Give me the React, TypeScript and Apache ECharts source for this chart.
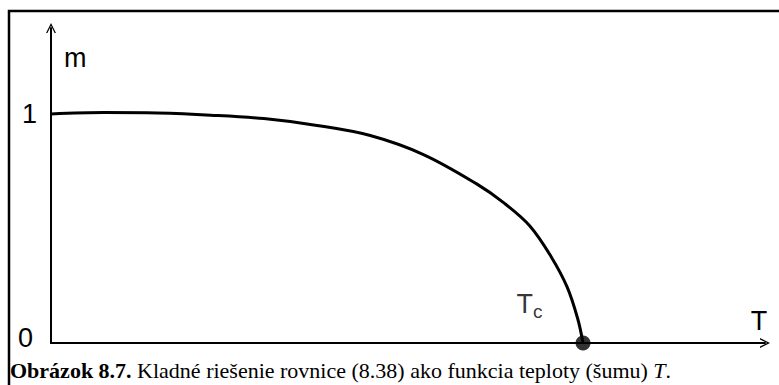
import React, { useEffect, useRef } from "react";
import * as echarts from "echarts";

// Order parameter m as a function of temperature T (critical point at T = Tc = 1)
const temperature = [0, 0.1, 0.2, 0.3, 0.4, 0.5, 0.6, 0.7, 0.8, 0.85, 0.9, 0.94, 0.97, 0.99, 1];
const magnetization = [1, 1.006, 1.004, 0.995, 0.98, 0.95, 0.906, 0.823, 0.695, 0.614, 0.511, 0.377, 0.245, 0.106, 0];
const criticalPoint = [1, 0];
const yTickLabels = ["0", "1"];

const SANS = "'Liberation Sans', Arial, sans-serif";
const SERIF = "'Liberation Serif', 'Times New Roman', serif";

// open chevron arrowhead, tip pointing up
const ARROW = "path://M0,10 L5,0 L10,10 L8.6,10 L5,2.8 L1.4,10 Z";

export default function App() {
  const ref = useRef<HTMLDivElement>(null);

  useEffect(() => {
    if (!ref.current) return;
    const chart = echarts.init(ref.current, undefined, { renderer: "svg" });
    const axisLine = {
      show: true,
      symbol: ["none", ARROW],
      symbolSize: [13, 10],
      lineStyle: { color: "#000", width: 2 },
    };
    const label = { fontFamily: SANS, fontSize: 27, color: "#000" };
    chart.setOption({
      animation: false,
      backgroundColor: "#fff",
      grid: { left: 51, right: 14, top: 28, bottom: 42 },
      xAxis: {
        type: "value",
        min: 0,
        max: 1.342,
        axisLine,
        axisTick: { show: false },
        axisLabel: { show: false },
        splitLine: { show: false },
        name: "T",
        nameLocation: "end",
        nameGap: -6,
        nameTextStyle: { ...label, align: "center", verticalAlign: "bottom", padding: [0, 0, 9, 0] },
      },
      yAxis: {
        type: "value",
        min: 0,
        max: 1.3755,
        interval: 1,
        axisLine,
        axisTick: { show: false },
        splitLine: { show: false },
        axisLabel: {
          margin: 14,
          ...label,
          formatter: (v: number) => {
            const s = String(v);
            if (!yTickLabels.includes(s)) return "";
            return v === 0 ? `{z|${s}}` : `{o|${s}}`;
          },
          rich: {
            z: { ...label, padding: [0, 4, 10, 0] },
            o: { ...label },
          },
        },
        name: "m",
        nameLocation: "end",
        nameGap: -30,
        nameTextStyle: { ...label, align: "left", verticalAlign: "middle", padding: [0, 0, 0, 13] },
      },
      series: [
        {
          type: "line",
          data: temperature.map((t, i) => [t, magnetization[i]]),
          smooth: 0.35,
          showSymbol: false,
          lineStyle: { color: "#000", width: 3 },
          z: 3,
        },
        {
          type: "scatter",
          data: [criticalPoint],
          symbolSize: 15,
          itemStyle: { color: "#000" },
          z: 4,
          label: {
            show: true,
            position: "left",
            distance: 0,
            offset: [-33, -39],
            formatter: "{t|T}{s|c}",
            rich: {
              t: { ...label },
              s: { fontFamily: SANS, fontSize: 19, color: "#000", padding: [14, 0, 0, 0] },
            },
          },
        },
      ],
      graphic: [
        {
          type: "rect",
          shape: { x: 9, y: 11, width: 900, height: 500 },
          style: { fill: "none", stroke: "#000", lineWidth: 2.5 },
          silent: true,
        },
        {
          type: "text",
          x: 10,
          y: 370,
          style: {
            text: "{b|Obrázok 8.7.}{r| Kladné riešenie rovnice (8.38) ako funkcia teploty (šumu) }{i|T}{r|.}",
            fontFamily: SERIF,
            fontSize: 22,
            fill: "#000",
            verticalAlign: "middle",
            rich: {
              b: { fontFamily: SERIF, fontSize: 22, fontWeight: "bold", fill: "#000" },
              r: { fontFamily: SERIF, fontSize: 22, fill: "#000" },
              i: { fontFamily: SERIF, fontSize: 22, fontStyle: "italic", fill: "#000" },
            },
          },
        },
      ],
    });
    return () => chart.dispose();
  }, []);

  return (
    <div
      ref={ref}
      style={{ position: "fixed", left: 0, top: 0, width: 779, height: 385, background: "#fff" }}
    />
  );
}
